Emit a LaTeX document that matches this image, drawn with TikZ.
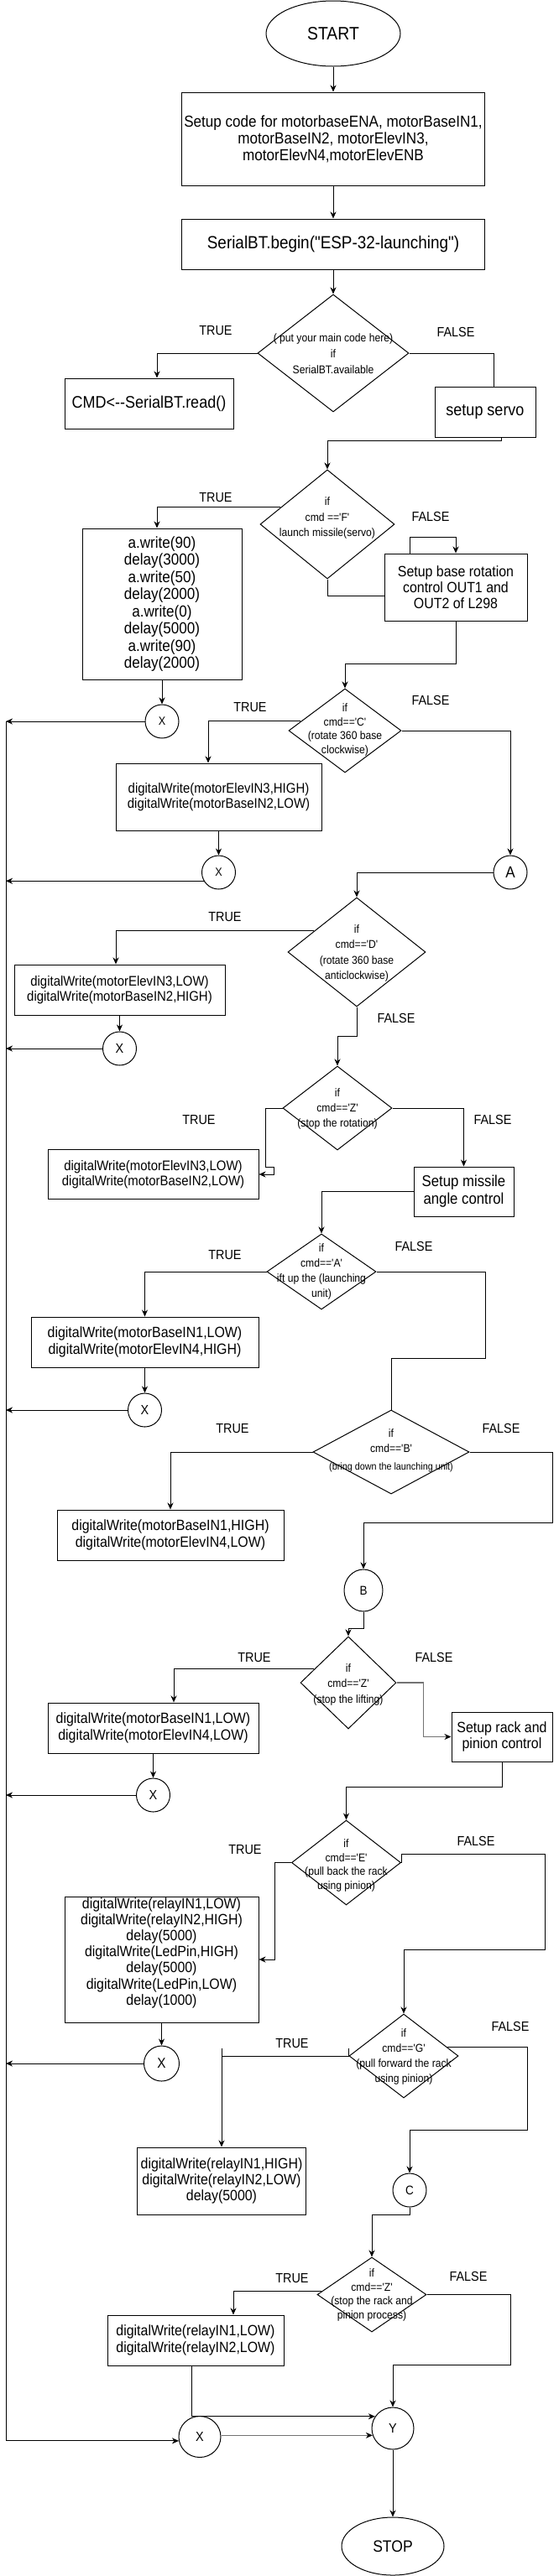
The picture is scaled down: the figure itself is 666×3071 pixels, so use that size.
\documentclass[tikz,border=0pt]{standalone}
\usepackage{fontspec}
\setmainfont{Liberation Sans}[FakeStretch=0.9,Ligatures=TeXOff]
\usetikzlibrary{shapes.geometric,arrows.meta,calc}
\newcommand{\myfs}[2]{\fontsize{#1pt}{#2pt}\selectfont}
\tikzset{
  ln/.style={line width=1pt, draw=black},
  arr/.style={ln, -{Stealth[length=8pt,width=7pt,inset=2.5pt]}},
  grayarr/.style={line width=1.2pt, draw=black!55, -{Stealth[length=8pt,width=7pt,inset=2.5pt,color=black]}},
  box/.style={draw, line width=1pt, rectangle, align=center, inner sep=0pt},
  dia/.style={draw, line width=1pt, diamond, inner sep=0pt},
  ell/.style={draw, line width=1pt, ellipse, inner sep=0pt},
  dtx/.style={align=center, inner sep=0pt},
  lbl/.style={inner sep=0pt, font=\myfs{16}{19}},
}
\begin{document}
\begin{tikzpicture}[x=1pt,y=-1pt]
\useasboundingbox (0,0) rectangle (666,3071);
\fill[white] (0,0) rectangle (666,3071);

% ---------------- nodes ----------------
\node[ell, minimum width=160pt, minimum height=78pt, font=\myfs{21.5}{24}] (start) at (397,40) {START};
\node[box, minimum width=361pt, minimum height=111pt, font=\myfs{19}{20}] (setup) at (397,165.5) {Setup code for motorbaseENA, motorBaseIN1,\\motorBaseIN2, motorElevIN3,\\motorElevN4,motorElevENB};
\node[box, minimum width=361pt, minimum height=60pt, font=\myfs{21}{24}] (serial) at (397,291) {SerialBT.begin("ESP-32-launching")};

\node[dia, minimum width=180pt, minimum height=140pt] (d1) at (397,421) {};
\node[dtx, font=\myfs{13.5}{19}] (d1t) at (397,422) {( put your main code here)\\if\\SerialBT.available};
\node[box, minimum width=201pt, minimum height=60pt, font=\myfs{20}{24}] (cmd) at (177.5,481) {CMD<--SerialBT.read()};
\node[box, minimum width=120pt, minimum height=60pt, font=\myfs{20}{24}] (servo) at (578,491) {setup servo};

\node[dia, minimum width=160pt, minimum height=130pt] (d2) at (390,625) {};
\node[dtx, font=\myfs{13.5}{18.5}] (d2t) at (390,617.5) {if\\cmd =='F'\\launch missile(servo)};
\node[box, minimum width=190pt, minimum height=180pt, font=\myfs{19}{20.5}] (awrite) at (193,720) {a.write(90)\\delay(3000)\\a.write(50)\\delay(2000)\\a.write(0)\\delay(5000)\\a.write(90)\\delay(2000)};
\node[ell, minimum width=40pt, minimum height=40pt, font=\myfs{14}{16}] (X1) at (193,860) {X};
\node[box, minimum width=170pt, minimum height=80pt, font=\myfs{17.7}{19}] (rot) at (543,700) {Setup base rotation\\control OUT1 and\\OUT2 of L298};

\node[dia, minimum width=134pt, minimum height=100pt] (d3) at (411,871) {};
\node[dtx, font=\myfs{13.5}{16.7}] (d3t) at (411,870) {if\\cmd=='C'\\(rotate 360 base\\clockwise)};
\node[box, minimum width=245pt, minimum height=80pt, font=\myfs{16.6}{18.3}] (ctrue) at (260.5,950) {digitalWrite(motorElevIN3,HIGH)\\digitalWrite(motorBaseIN2,LOW)};
\node[ell, minimum width=40pt, minimum height=40pt, font=\myfs{14}{16}] (X2) at (260.5,1040) {X};
\node[ell, minimum width=40pt, minimum height=40pt, font=\myfs{19}{21}] (A) at (608,1040) {A};

\node[dia, minimum width=164pt, minimum height=130pt] (d4) at (425,1135) {};
\node[dtx, font=\myfs{13.5}{18.3}] (d4t) at (425,1136.5) {if\\cmd=='D'\\(rotate 360 base\\anticlockwise)};
\node[box, minimum width=251pt, minimum height=60pt, font=\myfs{16.6}{18}] (dtrue) at (142.5,1180) {digitalWrite(motorElevIN3,LOW)\\digitalWrite(motorBaseIN2,HIGH)};
\node[ell, minimum width=40pt, minimum height=40pt, font=\myfs{16}{18}] (X3) at (142.5,1250) {X};

\node[dia, minimum width=130pt, minimum height=100pt] (d5) at (402,1321) {};
\node[dtx, font=\myfs{13.5}{18}] (d5t) at (402,1322) {if\\cmd=='Z'\\(stop the rotation)};
\node[box, minimum width=251pt, minimum height=59pt, font=\myfs{16.6}{18}] (ztrue) at (182.5,1400) {digitalWrite(motorElevIN3,LOW)\\digitalWrite(motorBaseIN2,LOW)};
\node[box, minimum width=119pt, minimum height=59pt, font=\myfs{18.6}{21}] (missile) at (552.5,1420.5) {Setup missile\\angle control};

\node[dia, minimum width=130pt, minimum height=90pt] (d6) at (383,1516) {};
\node[dtx, font=\myfs{13.5}{18}] (d6t) at (383,1516) {if\\cmd=='A'\\ift up the (launching\\unit)};
\node[box, minimum width=271pt, minimum height=60pt, font=\myfs{17.7}{20}] (atrue) at (172.5,1600) {digitalWrite(motorBaseIN1,LOW)\\digitalWrite(motorElevIN4,HIGH)};
\node[ell, minimum width=40pt, minimum height=40pt, font=\myfs{16}{18}] (X4) at (172.5,1681) {X};

\node[dia, minimum width=186pt, minimum height=100pt] (d7) at (466,1731) {};
\node[dtx, font=\myfs{13.5}{18}] (d7t) at (466,1718) {if\\cmd=='B'};
\node[dtx, font=\myfs{12}{14}] (d7u) at (466,1749) {(bring down the launching unit)};
\node[box, minimum width=270pt, minimum height=60pt, font=\myfs{17.7}{19.5}] (btrue) at (203,1830) {digitalWrite(motorBaseIN1,HIGH)\\digitalWrite(motorElevIN4,LOW)};
\node[ell, minimum width=46pt, minimum height=50pt, font=\myfs{15}{17}] (B) at (433,1896) {B};

\node[dia, minimum width=114pt, minimum height=110pt] (d8) at (415,2006) {};
\node[dtx, font=\myfs{13.5}{18.5}] (d8t) at (415,2008) {if\\cmd=='Z'\\(stop the lifting)};
\node[box, minimum width=251pt, minimum height=60pt, font=\myfs{17.7}{20}] (z2true) at (182.5,2060) {digitalWrite(motorBaseIN1,LOW)\\digitalWrite(motorElevIN4,LOW)};
\node[ell, minimum width=40pt, minimum height=40pt, font=\myfs{16}{18}] (X5) at (182.5,2140) {X};
\node[box, minimum width=120pt, minimum height=59pt, font=\myfs{17.7}{19}] (rack) at (598,2070.5) {Setup rack and\\pinion control};

\node[dia, minimum width=130pt, minimum height=101pt] (d9) at (412.5,2220.5) {};
\node[dtx, font=\myfs{13.5}{16.5}] (d9t) at (412.5,2224) {if\\cmd=='E'\\(pull back the rack\\using pinion)};
\node[box, minimum width=231pt, minimum height=150pt] (etrue) at (192.5,2336) {};
\node[dtx, font=\myfs{17.7}{19.2}] (etruet) at (192.5,2328) {digitalWrite(relayIN1,LOW)\\digitalWrite(relayIN2,HIGH)\\delay(5000)\\digitalWrite(LedPin,HIGH)\\delay(5000)\\digitalWrite(LedPin,LOW)\\delay(1000)};
\node[ell, minimum width=42pt, minimum height=42pt, font=\myfs{17}{19}] (X6) at (192.5,2460) {X};

\node[dia, minimum width=130pt, minimum height=100pt] (d10) at (481,2451) {};
\node[dtx, font=\myfs{13.5}{18}] (d10t) at (481,2451.5) {if\\cmd=='G'\\(pull forward the rack\\using pinion)};
\node[box, minimum width=201pt, minimum height=80pt, font=\myfs{17.7}{19}] (gtrue) at (264,2600) {digitalWrite(relayIN1,HIGH)\\digitalWrite(relayIN2,LOW)\\delay(5000)};
\node[ell, minimum width=40pt, minimum height=40pt, font=\myfs{15}{17}] (C) at (488,2611) {C};

\node[dia, minimum width=130pt, minimum height=89pt] (d11) at (443,2735.5) {};
\node[dtx, font=\myfs{13.5}{16.7}] (d11t) at (443,2736) {if\\cmd=='Z'\\(stop the rack and\\pinion process)};
\node[box, minimum width=210pt, minimum height=60pt, font=\myfs{17.7}{19.5}] (z3true) at (233,2790) {digitalWrite(relayIN1,LOW)\\digitalWrite(relayIN2,LOW)};
\node[ell, minimum width=50pt, minimum height=50pt, font=\myfs{16}{18}] (Y) at (468,2895) {Y};
\node[ell, minimum width=50pt, minimum height=49pt, font=\myfs{16}{18}] (X7) at (238,2905) {X};
\node[ell, minimum width=122pt, minimum height=69pt, font=\myfs{19.5}{22}] (stop) at (468,3035.5) {STOP};

\coordinate (bustop) at (7,860);

% ---------------- labels ----------------
\node[lbl] (t1) at (257,394) {TRUE};   \node[lbl] (f1) at (543,396) {FALSE};
\node[lbl] (t2) at (257,593) {TRUE};   \node[lbl] (f2) at (513,616) {FALSE};
\node[lbl] (t3) at (298,843) {TRUE};   \node[lbl] (f3) at (513,835) {FALSE};
\node[lbl] (t4) at (268,1093) {TRUE};  \node[lbl] (f4) at (472,1214) {FALSE};
\node[lbl] (t5) at (237,1335) {TRUE};  \node[lbl] (f5) at (587,1335) {FALSE};
\node[lbl] (t6) at (268,1496) {TRUE};  \node[lbl] (f6) at (493,1486) {FALSE};
\node[lbl] (t7) at (277,1703) {TRUE};  \node[lbl] (f7) at (597,1703) {FALSE};
\node[lbl] (t8) at (303,1976) {TRUE};  \node[lbl] (f8) at (517,1976) {FALSE};
\node[lbl] (t9) at (292,2205) {TRUE};  \node[lbl] (f9) at (567,2195) {FALSE};
\node[lbl] (t10) at (348,2436) {TRUE}; \node[lbl] (f10) at (608,2416) {FALSE};
\node[lbl] (t11) at (348,2716) {TRUE}; \node[lbl] (f11) at (558,2714) {FALSE};

% ---------------- connectors ----------------
\draw[arr] (start.south) -- (setup.north);
\draw[arr] (setup.south) -- (serial.north);
\draw[arr] (serial.south) -- (d1.north);
\draw[arr] (d1.west) -| ([xshift=9.5pt]cmd.north);
\draw[ln] (d1.east) -| ([xshift=10pt]servo.north);
\draw[arr] ([xshift=19pt]servo.south) -- ++(0,4) -| (d2.north);

\draw[arr] ($(d2.west)!0.31!(d2.north)$) -| ([xshift=-6pt]awrite.north);
\draw[arr] (awrite.south) -- (X1.north);
\draw[arr] (X1.west) -- (X1.west -| bustop);
\draw[ln] (d2.south) |- ([yshift=-10pt]rot.west);
\draw[arr] ([xshift=-55pt]rot.north) -- ++(0,-19) -| (rot.north);
\draw[arr] (rot.south) -- ++(0,51) -| (d3.north);

\draw[arr] ($(d3.west)!0.22!(d3.north)$) -| ([xshift=-12.5pt]ctrue.north);
\draw[arr] (d3.east) -| (A.north);
\draw[arr] (ctrue.south) -- (X2.north);
\draw[arr] (X2.210) -- (X2.210 -| bustop);
\draw[arr] (A.west) -| (d4.north);

\draw[arr] ($(d4.west)!0.385!(d4.north)$) -| ([xshift=-4.5pt]dtrue.north);
\draw[arr] (dtrue.south) -- (X3.north);
\draw[arr] (X3.west) -- (X3.west -| bustop);
\draw[arr] (d4.south) -- ++(0,35) -| (d5.north);

\draw[arr] (d5.west) -- ++(-20,0) -- ++(0,70) -- ++(10,0) -- ++(0,9) -- (ztrue.east);
\draw[arr] (d5.east) -| (missile.north);
\draw[arr] (missile.west) -| (d6.north);

\draw[arr] (d6.west) -| (atrue.north);
\draw[arr] (atrue.south) -- (X4.north);
\draw[arr] (X4.west) -- (X4.west -| bustop);
\draw[ln] (d6.east) -- ++(130,0) |- ([yshift=61pt]d7.north) -- (d7.north);

\draw[arr] (d7.west) -| (btrue.north);
\draw[arr] (d7.east) -- ++(99,0) |- ([yshift=55pt]B.north) -- (B.north);
\draw[arr] (B.south) -- ++(0,20) -| (d8.north);

\draw[arr] ($(d8.west)!0.29!(d8.north)$) -| ([xshift=24.5pt]z2true.north);
\draw[arr] (z2true.south) -- (X5.north);
\draw[arr] (X5.west) -- (X5.west -| bustop);
\draw[grayarr] (d8.east) -- ++(32,0) |- (rack.west);
\draw[arr] (rack.south) -- ++(0,30) -| (d9.north);

\draw[arr] (d9.west) -- ++(-20,0) |- (etrue.east);
\draw[arr] (d9.east) -- ++(0,-10) -- ++(171,0) |- ([yshift=76pt]d10.north) -- (d10.north);
\draw[arr] (etrue.south) -- (X6.north);
\draw[arr] (X6.west) -- (X6.west -| bustop);

\draw[arr] (d10.west) -| (gtrue.north);
\draw[ln] (d10.west) -- ++(0,-9);
\draw[ln] (d10.west -| gtrue.north) -- ++(0,-9);
\draw[arr] ($(d10.east)!0.2!(d10.north)$) -- ++(95,0) |- ([yshift=51pt]C.north) -- (C.north);
\draw[arr] (C.south) -- ++(0,9) -| (d11.north);

\draw[arr] ($(d11.west)!0.09!(d11.north)$) -| ([xshift=45pt]z3true.north);
\draw[arr] (d11.east) -- ++(100,0) |- ([yshift=50pt]Y.north) -- (Y.north);
\draw[arr] ([xshift=-5pt]z3true.south) |- (Y.146);
\draw[grayarr] (Y.199 -| X7.east) -- (Y.199);
\draw[arr] (bustop) |- (X7.191);
\draw[arr] (Y.south) -- (stop.north);
\end{tikzpicture}
\end{document}
